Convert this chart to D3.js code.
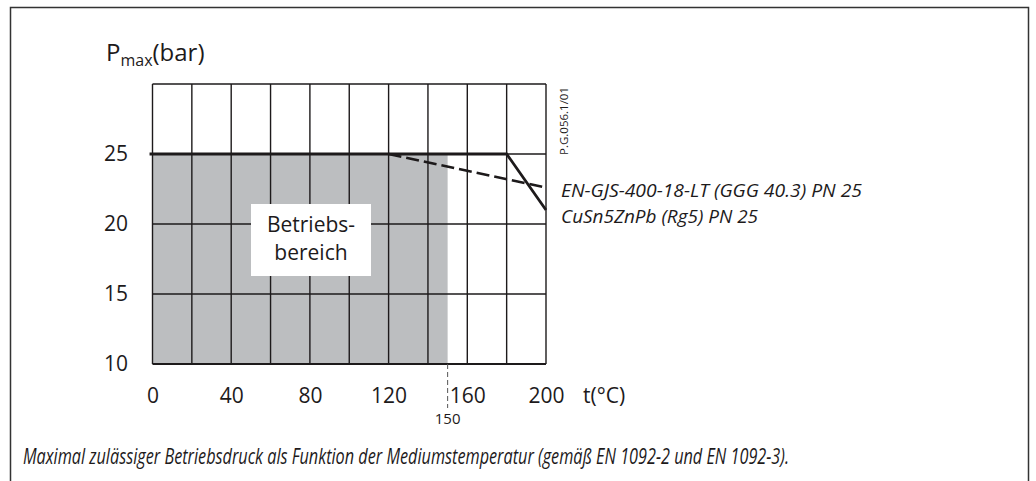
<!DOCTYPE html>
<html>
<head>
<meta charset="utf-8">
<script src="https://cdn.jsdelivr.net/npm/d3@7"></script>
<style>
  body { margin: 0; background: #fff; }
  svg { display: block; font-family: "Open Sans", sans-serif; }
</style>
</head>
<body>
<div id="chart-area"></div>
<script>
// Data
var tempTicks = [0, 40, 80, 120, 160, 200];
var pressTicks = [10, 15, 20, 25];
var tempGrid = [0, 20, 40, 60, 80, 100, 120, 140, 160, 180, 200];
var pressGrid = [10, 15, 20, 25, 30];

// CuSn5ZnPb (Rg5) PN 25 - solid
var cuTemp = [0, 180, 200];
var cuPress = [25, 25, 21];
// EN-GJS-400-18-LT (GGG 40.3) PN 25 - dashed part
var ggTemp = [120, 200];
var ggPress = [25, 22.6];

// Working range (Betriebsbereich)
var rangeTemp = [0, 150];
var rangePress = [10, 25];
var markTemp = 150;

var labels = ["EN-GJS-400-18-LT (GGG 40.3) PN 25", "CuSn5ZnPb (Rg5) PN 25"];
var caption = "Maximal zulässiger Betriebsdruck als Funktion der Mediumstemperatur (gemäß EN 1092-2 und EN 1092-3).";

var W = 1036, H = 481;
var ink = "#1d1a1b";

var svg = d3.select("#chart-area")
  .append("svg")
    .attr("width", W)
    .attr("height", H);

// outer frame (runs past bottom edge)
svg.append("rect")
  .attr("x", 10.5).attr("y", 7.5)
  .attr("width", 1018).attr("height", 500)
  .attr("fill", "none")
  .attr("stroke", "#333")
  .attr("stroke-width", 1.5);

var x = d3.scaleLinear().domain([0, 200]).range([152.5, 546]);
var y = d3.scaleLinear().domain([10, 30]).range([364, 84]);

// shaded working range
svg.append("rect")
  .attr("x", x(rangeTemp[0]))
  .attr("y", y(rangePress[1]))
  .attr("width", x(rangeTemp[1]) - x(rangeTemp[0]))
  .attr("height", y(rangePress[0]) - y(rangePress[1]))
  .attr("fill", "#bcbec0");

// grid
svg.append("g").selectAll("line")
  .data(tempGrid)
  .enter().append("line")
    .attr("x1", (d) => x(d)).attr("x2", (d) => x(d))
    .attr("y1", y(30)).attr("y2", y(10))
    .attr("stroke", ink).attr("stroke-width", 1.4);

svg.append("g").selectAll("line")
  .data(pressGrid)
  .enter().append("line")
    .attr("x1", x(0)).attr("x2", x(200))
    .attr("y1", (d) => y(d)).attr("y2", (d) => y(d))
    .attr("stroke", ink)
    .attr("stroke-width", (d) => d === 10 ? 2 : 1.4);

// label box
svg.append("rect")
  .attr("x", 251).attr("y", 204)
  .attr("width", 120).attr("height", 72)
  .attr("fill", "#fff");

svg.append("text")
  .attr("x", 311).attr("y", 232)
  .attr("text-anchor", "middle")
  .attr("font-size", 21)
  .attr("fill", ink)
  .text("Betriebs-");
svg.append("text")
  .attr("x", 311).attr("y", 260)
  .attr("text-anchor", "middle")
  .attr("font-size", 21)
  .attr("fill", ink)
  .text("bereich");

// curves
var line = d3.line().x((d) => x(d[0])).y((d) => y(d[1]));

svg.append("path")
  .datum(d3.zip(ggTemp, ggPress))
  .attr("d", line)
  .attr("fill", "none")
  .attr("stroke", ink)
  .attr("stroke-width", 2.6)
  .attr("stroke-dasharray", "13,5");

svg.append("path")
  .datum(d3.zip([-1.5].concat(cuTemp.slice(1)), cuPress))
  .attr("d", line)
  .attr("fill", "none")
  .attr("stroke", ink)
  .attr("stroke-width", 2.8);

// 150 marker
svg.append("line")
  .attr("x1", x(markTemp)).attr("x2", x(markTemp))
  .attr("y1", y(10)).attr("y2", 408)
  .attr("stroke", "#555")
  .attr("stroke-width", 1)
  .attr("stroke-dasharray", "5,3");

svg.append("text")
  .attr("x", x(markTemp)).attr("y", 424)
  .attr("text-anchor", "middle")
  .attr("font-size", 15)
  .attr("fill", ink)
  .text(markTemp);

// axes (labels only)
var xAxisCall = d3.axisBottom(x).tickValues(tempTicks).tickSize(0).tickPadding(0);
var gx = svg.append("g")
  .attr("transform", `translate(0,${y(10) + 24})`)
  .call(xAxisCall);
gx.select(".domain").remove();
gx.selectAll("text")
  .attr("font-size", 21)
  .attr("font-family", "Open Sans, sans-serif")
  .attr("fill", ink);

var yAxisCall = d3.axisLeft(y).tickValues(pressTicks).tickSize(0).tickPadding(0);
var gy = svg.append("g")
  .attr("transform", `translate(128,0)`)
  .call(yAxisCall);
gy.select(".domain").remove();
gy.selectAll("text")
  .attr("font-size", 21)
  .attr("font-family", "Open Sans, sans-serif")
  .attr("fill", ink);

// axis titles
var yt = svg.append("text")
  .attr("x", 106).attr("y", 61)
  .attr("font-size", 24)
  .attr("fill", ink);
yt.append("tspan").text("P");
yt.append("tspan").attr("font-size", 16).attr("dy", 5).text("max");
yt.append("tspan").attr("dy", -5).text("(bar)");

svg.append("text")
  .attr("x", 583).attr("y", 403)
  .attr("font-size", 21)
  .attr("fill", ink)
  .text("t(°C)");

// drawing code
svg.append("text")
  .attr("transform", "translate(568,155) rotate(-90)")
  .attr("font-size", 11)
  .attr("fill", ink)
  .attr("textLength", 68)
  .attr("lengthAdjust", "spacingAndGlyphs")
  .text("P.G.056.1/01");

// series labels
svg.append("text")
  .attr("x", 561).attr("y", 197)
  .attr("font-size", 19)
  .attr("font-style", "italic")
  .attr("fill", ink)
  .attr("textLength", 301)
  .attr("lengthAdjust", "spacingAndGlyphs")
  .text(labels[0]);
svg.append("text")
  .attr("x", 561).attr("y", 223)
  .attr("font-size", 19)
  .attr("font-style", "italic")
  .attr("fill", ink)
  .attr("textLength", 197)
  .attr("lengthAdjust", "spacingAndGlyphs")
  .text(labels[1]);

// caption
svg.append("text")
  .attr("x", 23).attr("y", 464)
  .attr("font-size", 21)
  .attr("font-style", "italic")
  .attr("fill", ink)
  .attr("textLength", 766)
  .attr("lengthAdjust", "spacingAndGlyphs")
  .text(caption);
</script>
</body>
</html>
